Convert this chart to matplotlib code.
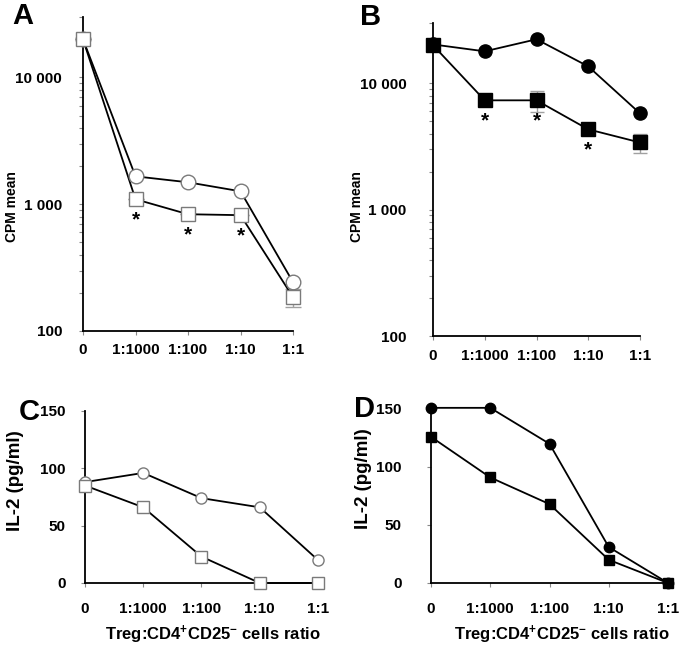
import numpy as np
import matplotlib
matplotlib.use('Agg')
import matplotlib.pyplot as plt
from matplotlib.ticker import NullFormatter

plt.rcParams['font.family'] = ['Liberation Sans', 'DejaVu Sans']
plt.rcParams['font.weight'] = 'bold'
plt.rcParams['mathtext.fontset'] = 'custom'
plt.rcParams['mathtext.rm'] = 'Liberation Sans:bold'
plt.rcParams['mathtext.default'] = 'rm'

# 데이터
ratios = ['0', '1:1000', '1:100', '1:10', '1:1']

a_circle = [20000, 1660, 1490, 1265, 243]
a_square = [20000, 1095, 834, 820, 185]
a_square_err = [0, 0, 0, 0, 30]
a_star = [1, 2, 3]

b_circle = [20300, 17900, 22300, 13600, 5780]
b_square = [20000, 7330, 7330, 4320, 3400]
b_square_err = [0, 0, 1400, 450, 600]
b_star = [1, 2, 3]

c_circle = [88, 96, 74, 66, 20]
c_square = [85, 66, 23, 0, 0]

d_circle = [151, 151, 120, 31, 0]
d_square = [126, 91, 68, 20, 0]

W, H = 683, 651
fig = plt.figure(figsize=(W / 100, H / 100), dpi=100)


def box(x0, y0, x1, y1):
    # 픽셀 좌표 -> figure 비율
    return [x0 / W, 1 - y1 / H, (x1 - x0) / W, (y1 - y0) / H]


TICK_SIZE = 11


def style(ax, ypad, xpad):
    for s in ['top', 'right']:
        ax.spines[s].set_visible(False)
    for s in ['left', 'bottom']:
        ax.spines[s].set_linewidth(1.3)
    ax.set_xlim(0, 4)
    ax.set_xticks(range(5))
    ax.set_xticklabels(ratios)
    ax.tick_params(axis='x', direction='out', length=3, width=0.8, color='#888888',
                   pad=xpad, labelsize=TICK_SIZE)
    ax.tick_params(axis='y', which='both', direction='out', length=3, width=0.8,
                   color='#888888', pad=ypad, labelsize=TICK_SIZE)


def draw(ax, yv, marker, filled, ms, err=None):
    x = np.arange(len(yv))
    face = 'black' if filled else 'white'
    edge = 'black' if filled else '#7a7a7a'
    if err is not None:
        ax.errorbar(x, yv, yerr=err, fmt='none', ecolor='#a0a0a0', elinewidth=1,
                    capsize=ms * 0.55, capthick=1, zorder=2, clip_on=False)
    ax.plot(x, yv, '-', color='black', lw=1.3, zorder=3, clip_on=False)
    ax.plot(x, yv, linestyle='none', marker=marker, ms=ms, mfc=face, mec=edge,
            mew=1.0, zorder=4, clip_on=False)


def stars(ax, yv, idx, dy):
    for i in idx:
        ax.annotate('*', (i, yv[i]), xytext=(0, dy), textcoords='offset pixels',
                    ha='center', va='center', fontsize=15, fontweight='bold')


# A
axA = fig.add_axes(box(83, 17, 293, 331))
axA.set_yscale('log')
axA.set_ylim(100, 30000)
axA.set_yticks([100, 1000, 10000])
axA.set_yticklabels(['100', '1 000', '10 000'])
axA.yaxis.set_minor_formatter(NullFormatter())
style(axA, 12, 6)
draw(axA, a_circle, 'o', False, 10.5)
draw(axA, a_square, 's', False, 10.5, a_square_err)
stars(axA, a_square, a_star, -21)

# B
axB = fig.add_axes(box(433, 23, 640, 336))
axB.set_yscale('log')
axB.set_ylim(100, 30000)
axB.set_yticks([100, 1000, 10000])
axB.set_yticklabels(['100', '1 000', '10 000'])
axB.yaxis.set_minor_formatter(NullFormatter())
style(axB, 16, 6)
draw(axB, b_circle, 'o', True, 9.5)
draw(axB, b_square, 's', True, 9.5, b_square_err)
stars(axB, b_square, b_star, -21)

# C
axC = fig.add_axes(box(85, 411, 318, 583))
axC.set_ylim(0, 150)
axC.set_yticks([0, 50, 100, 150])
style(axC, 11, 11)
draw(axC, c_circle, 'o', False, 8)
draw(axC, c_square, 's', False, 8)

# D
axD = fig.add_axes(box(431, 409, 668, 583))
axD.set_ylim(0, 150)
axD.set_yticks([0, 50, 100, 150])
style(axD, 18, 11)
draw(axD, d_circle, 'o', True, 7.5)
draw(axD, d_square, 's', True, 7.5)

# 축 제목
fig.text(12 / W, 1 - 207 / H, 'CPM mean', rotation=90, ha='center', va='center', fontsize=10)
fig.text(357 / W, 1 - 207 / H, 'CPM mean', rotation=90, ha='center', va='center', fontsize=10)
fig.text(16 / W, 1 - 481 / H, 'IL-2 (pg/ml)', rotation=90, ha='center', va='center', fontsize=13.5)
fig.text(363 / W, 1 - 479 / H, 'IL-2 (pg/ml)', rotation=90, ha='center', va='center', fontsize=13.5)
xlab = r'Treg:CD4$^{+}$CD25$^{-}$ cells ratio'
fig.text(213 / W, 1 - 635 / H, xlab, ha='center', va='center', fontsize=12)
fig.text(562 / W, 1 - 635 / H, xlab, ha='center', va='center', fontsize=12)

# 패널 문자
for t, (px, py) in zip('ABCD', [(23, 16), (371, 17), (29, 412), (364, 409)]):
    fig.text(px / W, 1 - py / H, t, ha='center', va='center', fontsize=21, fontweight='bold')

fig.savefig('out.png', dpi=100)
